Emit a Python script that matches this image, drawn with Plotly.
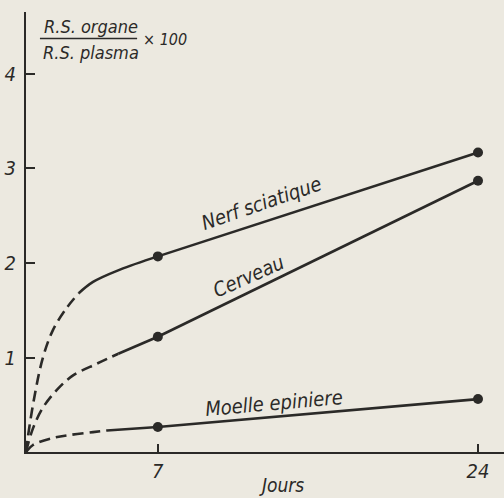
import plotly.graph_objects as go

# ---- data ----
days_measured = [7, 24]
nerf_measured = [2.07, 3.17]
cerveau_measured = [1.22, 2.87]
moelle_measured = [0.265, 0.56]

# extrapolated (dashed) early portions
nerf_dash_x = [0, 0.1, 0.48, 0.9, 1.43, 2.18, 2.8]
nerf_dash_y = [0, 0.16, 0.62, 1.0, 1.29, 1.53, 1.68]
nerf_solid_x = [2.8, 3.56, 4.99, 7]
nerf_solid_y = [1.68, 1.80, 1.93, 2.07]

cerveau_dash_x = [0, 0.37, 0.9, 1.65, 2.5, 3.77, 4.9]
cerveau_dash_y = [0, 0.25, 0.47, 0.66, 0.81, 0.935, 1.04]
cerveau_solid_x = [4.9, 7]
cerveau_solid_y = [1.04, 1.22]

moelle_dash_x = [0, 0.37, 1.43, 2.34, 3.56, 4.3]
moelle_dash_y = [0, 0.074, 0.148, 0.18, 0.21, 0.228]
moelle_solid_x = [4.3, 7]
moelle_solid_y = [0.228, 0.265]

y_ticks = [1, 2, 3, 4]
x_ticks = [7, 24]

INK = "#2b2a28"
BG = "#ece9e0"
FONT = "DejaVu Sans Condensed, Liberation Sans Narrow, Liberation Sans, sans-serif"

fig = go.Figure()

def add_line(x, y, dash, shape="spline"):
    fig.add_trace(go.Scatter(
        x=x, y=y, mode="lines",
        line=dict(color=INK, width=2.6, dash=dash, shape=shape, smoothing=1.0),
        showlegend=False, hoverinfo="skip"))

for dx, dy, sx, sy, my in [
    (nerf_dash_x, nerf_dash_y, nerf_solid_x, nerf_solid_y, nerf_measured),
    (cerveau_dash_x, cerveau_dash_y, cerveau_solid_x, cerveau_solid_y, cerveau_measured),
    (moelle_dash_x, moelle_dash_y, moelle_solid_x, moelle_solid_y, moelle_measured),
]:
    add_line(dx, dy, "11px,6px")
    add_line(sx, sy, "solid")
    add_line(days_measured, my, "solid", shape="linear")
    fig.add_trace(go.Scatter(
        x=days_measured, y=my, mode="markers",
        marker=dict(color=INK, size=10),
        showlegend=False, hoverinfo="skip"))

ann_font = dict(family=FONT, size=20, color=INK, style="italic")
fig.add_annotation(x=12.53, y=2.63, text="Nerf sciatique", textangle=-19,
                   showarrow=False, font=ann_font)
fig.add_annotation(x=11.84, y=1.86, text="Cerveau", textangle=-24,
                   showarrow=False, font=ann_font)
fig.add_annotation(x=13.17, y=0.52, text="Moelle epiniere", textangle=-5,
                   showarrow=False, font=ann_font)

# y-axis title as fraction
frac_font = dict(family=FONT, size=18, color=INK, style="italic")
fig.add_annotation(x=3.45, y=4.50, text="R.S. organe", showarrow=False, font=frac_font)
fig.add_annotation(x=3.45, y=4.23, text="R.S. plasma", showarrow=False, font=frac_font)
fig.add_annotation(x=6.1, y=4.37, text="× 100", showarrow=False, xanchor="left",
                   font=dict(family=FONT, size=16, color=INK, style="italic"))
fig.add_shape(type="line", x0=0.74, x1=5.9, y0=4.375, y1=4.375,
              line=dict(color=INK, width=1.5))

# x-axis title
fig.add_annotation(x=0.535, xref="paper", y=-0.074, yref="paper", text="Jours",
                   showarrow=False, yanchor="middle", xanchor="center",
                   font=dict(family=FONT, size=19, color=INK, style="italic"))

fig.update_layout(
    width=504, height=498,
    margin=dict(l=26, r=0, t=12, b=46),
    paper_bgcolor=BG, plot_bgcolor=BG,
    xaxis=dict(range=[0, 25.38], showgrid=False, zeroline=False,
               showline=True, linecolor=INK, linewidth=2,
               ticks="inside", ticklen=8, tickwidth=1.5, tickcolor=INK,
               tickvals=x_ticks, ticktext=[str(v) for v in x_ticks],
               tickfont=dict(family=FONT, size=20, color=INK, style="italic")),
    yaxis=dict(range=[0, 4.656], showgrid=False, zeroline=False,
               showline=True, linecolor=INK, linewidth=2,
               ticks="inside", ticklen=9, tickwidth=1.5, tickcolor=INK,
               tickvals=y_ticks, ticktext=[str(v) for v in y_ticks],
               ticklabelstandoff=4,
               tickfont=dict(family=FONT, size=20, color=INK, style="italic")),
)

fig.write_html("out.html")
